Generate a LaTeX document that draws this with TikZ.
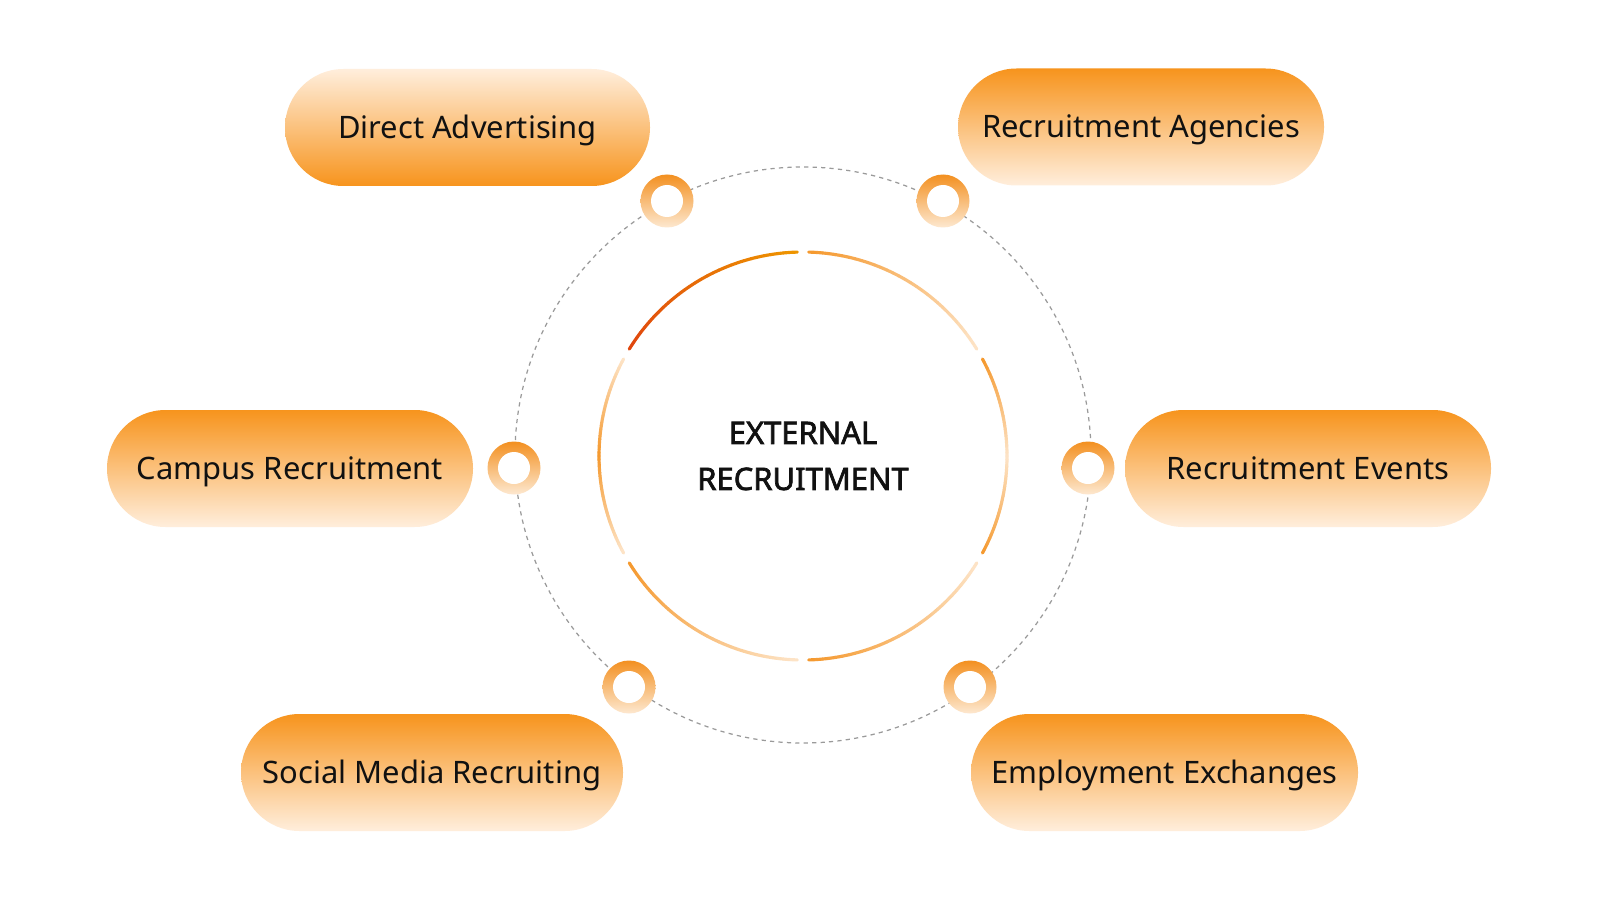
\documentclass[tikz,border=0pt]{standalone}
\usepackage{fontspec}
\setmainfont{Noto Sans}
\newfontfamily\ctrfont{Noto Sans}[FakeBold=2.2]
\usetikzlibrary{calc}
\definecolor{pillor}{HTML}{F7941D}
\definecolor{pilllt}{HTML}{FFEEDC}
\definecolor{ringor}{HTML}{F39020}
\definecolor{ringlt}{HTML}{FDE8D0}
\definecolor{arcdark}{HTML}{E0470E}
\definecolor{arcyel}{HTML}{EE9500}
\definecolor{arcor}{HTML}{F59A30}
\definecolor{arclt}{HTML}{FDE3C6}
\definecolor{dashgray}{HTML}{9A9A9A}
\definecolor{txt}{HTML}{111111}
\newcommand\gradarc[4]{%
  \foreach \i in {0,...,29}{%
    \pgfmathsetmacro\aa{#1+(#2-(#1))*\i/30}%
    \pgfmathsetmacro\bb{#1+(#2-(#1))*(\i+1)/30}%
    \pgfmathtruncatemacro\pp{100*\i/29}%
    \draw[arcline, color=#4!\pp!#3] ([shift={(\aa:2.04)}]C) arc[start angle=\aa, end angle=\bb, radius=2.04];
  }}
\tikzset{
  pill/.style={rounded corners=0.585cm, minimum height=1.17cm, inner sep=0pt,
    text height=0.215cm, text depth=0cm,
    text=txt, font=\fontsize{8.8}{11}\selectfont, top color=pillor, bottom color=pilllt},
  pillinv/.style={pill, top color=pilllt, bottom color=pillor},
  ringout/.style={circle, minimum size=0.53cm, inner sep=0pt, top color=ringor, bottom color=ringlt},
  ringin/.style={circle, minimum size=0.32cm, inner sep=0pt, fill=white},
  arcline/.style={line width=0.9pt, line cap=round},
  dashring/.style={draw=dashgray, line width=0.35pt, dash pattern=on 1.2pt off 1.2pt}
}
\begin{document}
\begin{tikzpicture}
\useasboundingbox (0,0) rectangle (16,9);
\fill[white] (0,0) rectangle (16,9);
\coordinate (C) at (8.03,4.44);
\coordinate (D) at (8.03,4.45);
\node[circle, minimum size=5.76cm, inner sep=0pt, dashring] (outer) at (D) {};
% inner arcs
\gradarc{31.6}{88.4}{arclt}{arcor}
\gradarc{91.6}{148.4}{arcyel}{arcdark}
\gradarc{151.6}{180}{arclt}{arcor}
\gradarc{180}{208.4}{arcor}{arclt}
\gradarc{211.6}{268.4}{arcor}{arclt}
\gradarc{271.6}{328.4}{arcor}{arclt}
\gradarc{331.6}{360}{arcor}{arclt}
\gradarc{360}{388.4}{arclt}{arcor}
\node[align=center, font=\fontsize{8.8}{13.1}\selectfont\ctrfont, text=txt] (center) at (C) {EXTERNAL\\RECRUITMENT};
% rings
\foreach \n/\x/\y in {r1/6.67/6.99, r2/9.43/6.99, r3/5.14/4.32, r4/10.88/4.32, r5/6.29/2.13, r6/9.70/2.13}{
  \node[ringout] (\n) at (\x,\y) {};
  \node[ringin] (\n in) at (\x,\y) {};
}
% pills
\node[pillinv, minimum width=3.65cm] (da) at (4.675,7.725) {Direct Advertising};
\node[pill, minimum width=3.66cm] (ra) at (11.41,7.73) {Recruitment Agencies};
\node[pill, minimum width=3.66cm] (cr) at (2.90,4.315) {Campus Recruitment};
\node[pill, minimum width=3.66cm] (re) at (13.08,4.315) {Recruitment Events};
\node[pill, minimum width=3.82cm] (sm) at (4.32,1.275) {Social Media Recruiting};
\node[pill, minimum width=3.87cm] (ee) at (11.645,1.275) {Employment Exchanges};
\end{tikzpicture}
\end{document}
